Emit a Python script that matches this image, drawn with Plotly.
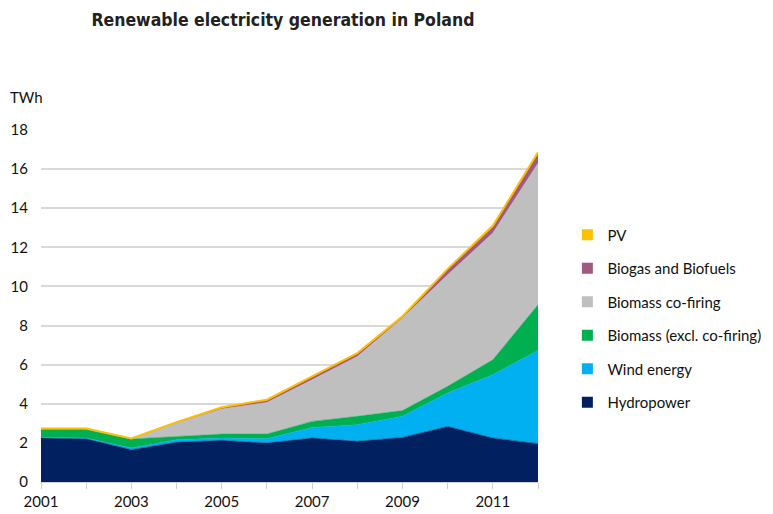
import plotly.graph_objects as go

years = [2001, 2002, 2003, 2004, 2005, 2006, 2007, 2008, 2009, 2010, 2011, 2012]
hydropower = [2.25, 2.21, 1.65, 2.03, 2.13, 1.99, 2.25, 2.08, 2.28, 2.84, 2.25, 1.96]
wind_energy = [0.03, 0.04, 0.09, 0.13, 0.12, 0.22, 0.54, 0.85, 1.08, 1.71, 3.24, 4.77]
biomass_excl = [0.43, 0.46, 0.46, 0.17, 0.20, 0.24, 0.31, 0.43, 0.29, 0.34, 0.76, 2.33]
biomass_cofiring = [0.0, 0.0, 0.0, 0.69, 1.28, 1.62, 2.13, 3.06, 4.73, 5.71, 6.48, 7.24]
biogas_biofuels = [0.03, 0.03, 0.03, 0.04, 0.09, 0.14, 0.17, 0.17, 0.10, 0.30, 0.37, 0.55]
pv = [0.0, 0.0, 0.0, 0.0, 0.0, 0.0, 0.0, 0.0, 0.0, 0.0, 0.0, 0.01]

series = [
    ("Hydropower", hydropower, "#002060"),
    ("Wind energy", wind_energy, "#00b0f0"),
    ("Biomass (excl. co-firing)", biomass_excl, "#00b050"),
    ("Biomass co-firing", biomass_cofiring, "#bfbfbf"),
    ("Biogas and Biofuels", biogas_biofuels, "#a05a82"),
    ("PV", pv, "#ffc000"),
]

fig = go.Figure()
n = len(series)
for i, (name, vals, col) in enumerate(series):
    lw = 2 if name == "PV" else 0.5
    fig.add_trace(go.Scatter(
        x=years, y=vals, name=name, stackgroup="one", mode="lines",
        line=dict(color=col, width=lw), fillcolor=col, showlegend=False,
    ))
# legend entries (square swatches)
for i, (name, vals, col) in enumerate(series):
    fig.add_trace(go.Scatter(
        x=[None], y=[None], name=name, mode="markers",
        marker=dict(symbol="square", size=11, color=col),
        legendgroup=name, legendrank=n - i, showlegend=True,
    ))

font_main = "Lato, 'Open Sans', sans-serif"
fig.update_layout(
    width=773, height=514,
    margin=dict(l=41, r=235, t=130, b=32, autoexpand=False),
    paper_bgcolor="white", plot_bgcolor="white",
    title=dict(text="<b>Renewable electricity generation in Poland</b>",
               font=dict(family="DejaVu Sans Condensed", size=17.5, color="#222222"),
               x=0.366, xref="container", xanchor="center",
               y=0.961, yref="container", yanchor="middle"),
    showlegend=True,
    legend=dict(tracegroupgap=11, xref="container", yref="container",
                x=0.734, xanchor="left", y=0.575, yanchor="top",
                font=dict(family=font_main, size=15, color="#111111"),
                itemwidth=30, bgcolor="rgba(0,0,0,0)"),
    font=dict(family=font_main, size=15, color="#111111"),
    xaxis=dict(range=[2001, 2012], tickmode="array",
               tickvals=[2001, 2003, 2005, 2007, 2009, 2011],
               ticktext=["2001", "2003", "2005", "2007", "2009", "2011"],
               minor=dict(dtick=1, tick0=2001, ticks="outside", ticklen=6, tickcolor="#d0d0d0", showgrid=False),
               ticks="outside", ticklen=6, tickcolor="#d0d0d0",
               showline=True, linecolor="#d0d0d0", linewidth=1,
               showgrid=False, zeroline=False, automargin=False,
               tickfont=dict(family=font_main, size=15, color="#111111")),
    yaxis=dict(range=[0, 18], dtick=2, showgrid=True, gridcolor="#d9d9d9", gridwidth=1.5,
               showline=False, zeroline=False, ticks="", automargin=False,
               ticklabelstandoff=12,
               tickfont=dict(family=font_main, size=15, color="#111111")),
    annotations=[dict(text="TWh", xref="paper", yref="paper", x=-0.066, y=1.094,
                      xanchor="left", yanchor="middle", showarrow=False,
                      font=dict(family=font_main, size=15, color="#111111"))],
)

fig.write_html("out.html", config={"displayModeBar": False},
               post_script="document.body.style.margin='0';document.body.style.overflow='hidden';")
